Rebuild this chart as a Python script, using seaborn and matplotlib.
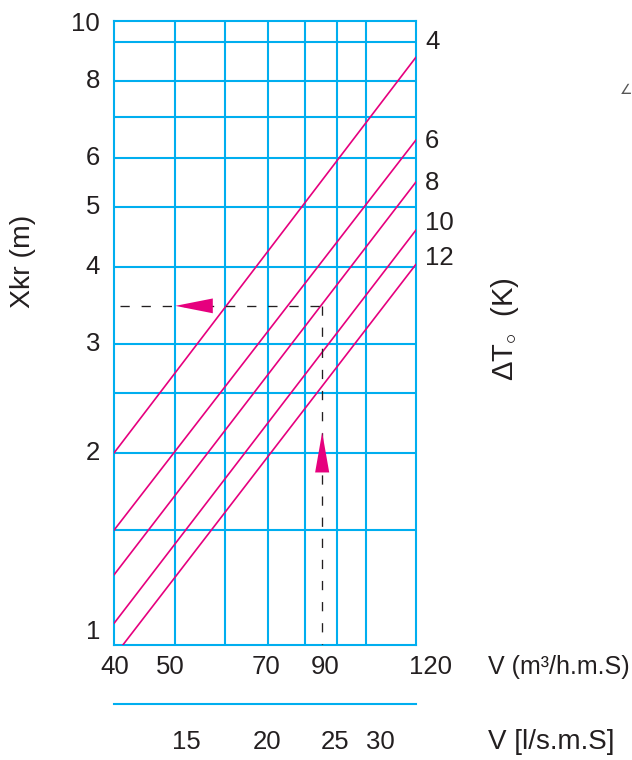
import numpy as np
import pandas as pd
import matplotlib
matplotlib.use('Agg')
import matplotlib.pyplot as plt
from matplotlib.ticker import NullLocator
import seaborn as sns

# Throw length nomogram: Xkr vs air flow V for several ΔT lines (log-log)

# air flow V (m3/h.m.S) at the two ends of every line
v_ends = [40, 120]
# temperature difference of each line (K)
delta_t = [4, 6, 8, 10, 12]
# Xkr (m) read at V=40 and at V=120
xkr_start = [2.0, 1.5, 1.27, 1.06, 0.937]
xkr_end = [8.74, 6.42, 5.49, 4.59, 4.04]
# height of the ΔT labels right of the plot
label_y = [9.25, 6.40, 5.47, 4.71, 4.14]

x_ticks = [40, 50, 70, 90, 120]
x_grid = [50, 60, 70, 80, 90, 100]
y_ticks = [1, 2, 3, 4, 5, 6, 8, 10]
y_grid = [1.5, 2, 2.5, 3, 4, 5, 6, 7, 8, 9.25]

# second scale in l/s.m.S, placed at these m3/h positions
ls_labels = [15, 20, 25, 30]
ls_pos = [51.0, 69.3, 89.0, 104.5]

# worked example (dashed lines + arrows)
ex_v = 85.3
ex_xkr = 3.46
ex_start = 40.9
h_arrow = (50.0, 57.3)   # tip, tail along V
v_arrow = (2.16, 1.86)   # tip, tail along Xkr

CYAN = '#00aeef'
MAGENTA = '#e6007e'
INK = '#231f20'
YMIN, YMAX = 0.978, 10

sns.set_style('white')
plt.rcParams['font.family'] = ['Liberation Sans', 'DejaVu Sans']
plt.rcParams['mathtext.fontset'] = 'custom'
plt.rcParams['mathtext.rm'] = 'Liberation Sans'
plt.rcParams['mathtext.it'] = 'Liberation Sans:italic'
FS = 18.5

df = pd.DataFrame({
    'V': v_ends * len(delta_t),
    'Xkr': [v for pair in zip(xkr_start, xkr_end) for v in pair],
    'dT': [t for t in delta_t for _ in v_ends],
})

fig = plt.figure(figsize=(6.32, 7.6), dpi=100)
ax = fig.add_axes([114 / 632, 1 - 645 / 760, 302 / 632, 624 / 760])

sns.lineplot(data=df, x='V', y='Xkr', hue='dT', palette=[MAGENTA] * len(delta_t),
             legend=False, lw=1.2, ax=ax, zorder=3)

ax.set_xscale('log')
ax.set_yscale('log')
ax.set_xlim(v_ends[0], v_ends[1])
ax.set_ylim(YMIN, YMAX)

for v in x_grid:
    ax.axvline(v, color=CYAN, lw=1.5, zorder=1)
for v in y_grid:
    ax.axhline(v, color=CYAN, lw=1.5, zorder=1)
for s in ax.spines.values():
    s.set_color(CYAN)
    s.set_linewidth(1.5)

ax.set_xticks(x_ticks)
ax.set_xticklabels([])
ax.set_yticks(y_ticks)
ax.set_yticklabels([])
ax.xaxis.set_minor_locator(NullLocator())
ax.yaxis.set_minor_locator(NullLocator())
ax.tick_params(length=0)
ax.set_xlabel('')
ax.set_ylabel('')

# tick labels, nudged like in the printed chart
x_nudge = [1, -5, -2, -12, 14]
for t, dx in zip(x_ticks, x_nudge):
    ax.annotate(str(t), xy=(t, 0), xycoords=('data', 'axes fraction'),
                xytext=(dx, -22), textcoords='offset pixels',
                ha='center', va='center', fontsize=FS, color=INK, annotation_clip=False)
y_nudge = [7, 0, 0, 0, 0, 0, 0, -3]
for t, dy in zip(y_ticks, y_nudge):
    ax.annotate(str(t), xy=(0, t), xycoords=('axes fraction', 'data'),
                xytext=(-14, dy), textcoords='offset pixels',
                ha='right', va='center', fontsize=FS, color=INK, annotation_clip=False)

# ΔT labels at the right end of the lines
for t, y in zip(delta_t, label_y):
    ax.annotate(str(t), xy=(v_ends[1], y), xytext=(9, 0), textcoords='offset pixels',
                ha='left', va='center', fontsize=FS, color=INK, annotation_clip=False)

# worked example
dash = (0, (7, 9))
ax.plot([ex_start, ex_v], [ex_xkr, ex_xkr], color=INK, lw=0.95, ls=dash, zorder=4)
ax.plot([ex_v, ex_v], [ex_xkr, YMIN], color=INK, lw=0.95, ls=dash, zorder=4)
hw_y = 1.028
ax.fill([h_arrow[0], h_arrow[1], h_arrow[1]],
        [ex_xkr, ex_xkr * hw_y, ex_xkr / hw_y], color=MAGENTA, lw=0, zorder=5)
hw_x = 1.026
ax.fill([ex_v, ex_v * hw_x, ex_v / hw_x],
        [v_arrow[0], v_arrow[1], v_arrow[1]], color=MAGENTA, lw=0, zorder=5)

# second V scale in l/s.m.S
ax2 = fig.add_axes([114 / 632, 1 - 704 / 760, 302 / 632, 0.0001])
ax2.set_xscale('log')
ax2.set_xlim(v_ends[0], v_ends[1])
ax2.set_xticks(ls_pos)
ax2.set_xticklabels([])
ax2.xaxis.set_minor_locator(NullLocator())
ax2.set_yticks([])
for side in ['top', 'left', 'right']:
    ax2.spines[side].set_visible(False)
ax2.spines['bottom'].set_color(CYAN)
ax2.spines['bottom'].set_linewidth(1.5)
ax2.tick_params(axis='x', direction='out', length=11, width=1.5, color=CYAN)
ls_nudge = [6, 2, 1, 2]
for p, t, dx in zip(ls_pos, ls_labels, ls_nudge):
    ax2.annotate(str(t), xy=(p, 0), xycoords=('data', 'axes fraction'),
                 xytext=(dx, -38), textcoords='offset pixels',
                 ha='center', va='center', fontsize=FS, color=INK, annotation_clip=False)

fig.text(23 / 632, 1 - 261 / 760, 'Xkr (m)', rotation=90, ha='center', va='center',
         fontsize=20.5, color=INK)
fig.text(505 / 632, 1 - 329 / 760, 'ΔT$_{\\circ}$  (K)', rotation=90,
         ha='center', va='center', fontsize=21, color=INK)
fig.text(488 / 632, 1 - 667 / 760, 'V (m\u00b3/h.m.S)', ha='left', va='center',
         fontsize=18, color=INK)
fig.text(488 / 632, 1 - 742 / 760, 'V [l/s.m.S]', ha='left', va='center',
         fontsize=20, color=INK)
fig.text(626 / 632, 1 - 90 / 760, '\u2220', ha='center', va='center', fontsize=10,
         color='#555555', family='DejaVu Sans')

fig.savefig('out.png', dpi=100)
